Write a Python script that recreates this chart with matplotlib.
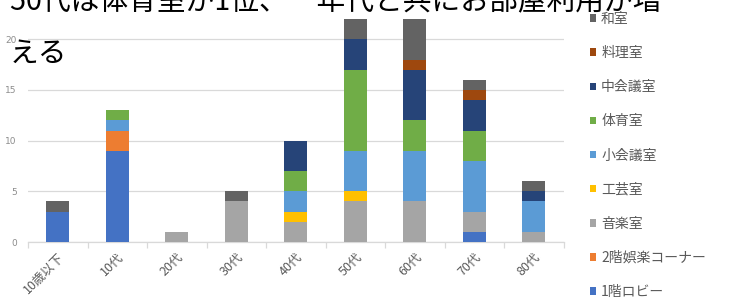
import matplotlib
matplotlib.use("Agg")
import matplotlib.pyplot as plt
from matplotlib.patches import Patch
import numpy as np

plt.rcParams['font.family'] = ['Noto Sans CJK JP', 'DejaVu Sans']

categories = ["10歳以下", "10代", "20代", "30代", "40代", "50代", "60代", "70代", "80代"]
series_names = ["1階ロビー", "2階娯楽コーナー", "音楽室", "工芸室", "小会議室", "体育室", "中会議室", "料理室", "和室"]
lobby1 = [3, 9, 0, 0, 0, 0, 0, 1, 0]
goraku2 = [0, 2, 0, 0, 0, 0, 0, 0, 0]
ongaku = [0, 0, 1, 4, 2, 4, 4, 2, 1]
kogei = [0, 0, 0, 0, 1, 1, 0, 0, 0]
shokaigi = [0, 1, 0, 0, 2, 4, 5, 5, 3]
taiiku = [0, 1, 0, 0, 2, 8, 3, 3, 0]
chukaigi = [0, 0, 0, 0, 3, 3, 5, 3, 1]
ryori = [0, 0, 0, 0, 0, 0, 1, 1, 0]
washitsu = [1, 0, 0, 1, 0, 2, 4, 1, 1]
series_values = [lobby1, goraku2, ongaku, kogei, shokaigi, taiiku, chukaigi, ryori, washitsu]
colors = ["#4472C4", "#ED7D31", "#A5A5A5", "#FFC000", "#5B9BD5", "#70AD47", "#264478", "#9E480E", "#636363"]
title_line1 = "50代は体育室が1位、\u3000年代と共にお部屋利用が増"
title_line2 = "える"
yticks = [0, 5, 10, 15, 20]

W, H = 731, 307
fig = plt.figure(figsize=(W / 100, H / 100), dpi=100)
ax = fig.add_axes([28 / W, (H - 242) / H, (563.5 - 28) / W, (242 - 19) / H])

x = np.arange(len(categories))
bottom = np.zeros(len(categories))
handles = []
for name, vals, c in zip(series_names, series_values, colors):
    v = np.array(vals, dtype=float)
    ax.bar(x, v, width=0.39, bottom=bottom, color=c, label=name, zorder=3)
    bottom += v
    handles.append(Patch(facecolor=c, edgecolor='none', label=name))

ax.set_xlim(-0.5, len(categories) - 0.5)
ax.set_ylim(0, 22)
ax.set_yticks(yticks)
ax.set_yticklabels([str(t) for t in yticks], fontsize=6.5, color="#8C8C8C", family=['DejaVu Sans'])
ax.yaxis.grid(True, color="#D9D9D9", linewidth=0.9, zorder=0)
ax.tick_params(axis='y', length=0, pad=8)

ax.set_xticks(x)
ax.set_xticklabels(categories, rotation=45, ha='right', rotation_mode='anchor',
                   fontsize=9, color="#595959")
ax.tick_params(axis='x', length=0, pad=6)
ax.set_xticks(np.arange(-0.5, len(categories)), minor=True)
ax.tick_params(axis='x', which='minor', length=4, color="#D9D9D9", width=0.9)

for s in ['top', 'right', 'left']:
    ax.spines[s].set_visible(False)
ax.spines['bottom'].set_color("#D9D9D9")
ax.spines['bottom'].set_linewidth(0.9)

leg = fig.legend(handles=handles[::-1], loc='upper left',
                 bbox_to_anchor=(590 / W, 1 - 12 / H), frameon=False,
                 fontsize=10, labelcolor="#595959",
                 handlelength=0.45, handleheight=0.45, handletextpad=0.35,
                 labelspacing=1.45, borderaxespad=0, borderpad=0)

fig.text(10 / W, 1 - 10 / H, title_line1, fontsize=20.7, color="black", va='baseline', ha='left')
fig.text(10 / W, 1 - 62 / H, title_line2, fontsize=20.7, color="black", va='baseline', ha='left')

fig.savefig("out.png", dpi=100)
